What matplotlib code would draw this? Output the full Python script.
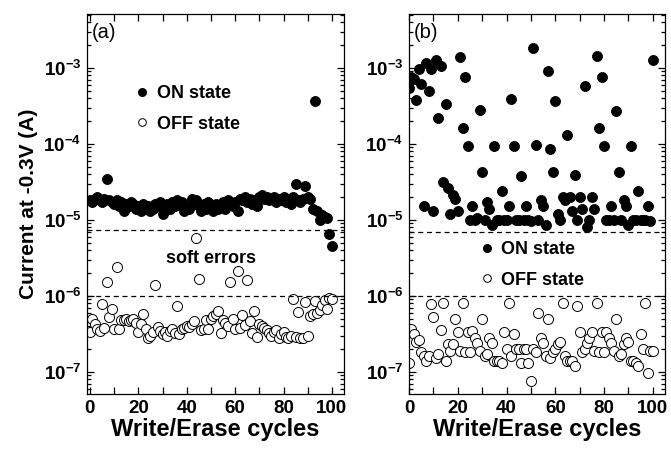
import numpy as np
import matplotlib
matplotlib.use("Agg")
import matplotlib.pyplot as plt
from matplotlib.lines import Line2D
from matplotlib.ticker import LogLocator, MultipleLocator, NullFormatter

plt.rcParams['font.family'] = ['Liberation Sans', 'DejaVu Sans']

cycles = np.arange(0, 101)

# panel (a), units of 1e-5 A
on_a = [1.8, 1.7, 1.9, 2.0, 1.8, 1.7, 1.9, 3.4, 1.8, 1.7,
        1.6, 1.8, 1.5, 1.7, 1.3, 1.6, 1.5, 1.7, 1.6, 1.4,
        1.5, 1.3, 1.6, 1.4, 1.5, 1.3, 1.4, 1.6, 1.5, 1.7,
        1.2, 1.5, 1.6, 1.4, 1.7, 1.5, 1.8, 1.6, 1.7, 1.3,
        1.5, 1.4, 1.9, 1.6, 1.8, 1.5, 1.3, 1.6, 1.4, 1.7,
        1.5, 1.3, 1.6, 1.4, 1.5, 1.7, 1.4, 1.8, 1.6, 1.5,
        1.7, 1.3, 1.9, 1.8, 2.0, 1.7, 1.9, 1.6, 1.8, 1.5,
        2.0, 2.1, 1.9, 2.0, 1.8, 1.9, 2.0, 1.7, 1.9, 1.8,
        2.0, 1.7, 1.9, 1.6, 2.0, 3.0, 1.8, 1.7, 1.9, 2.8,
        2.0, 1.9, 1.4, 37.0, 1.3, 1.0, 1.15, 1.1, 1.05, 0.65,
        0.45]
# panel (a), units of 1e-7 A
off_a = [3.3, 5.0, 4.3, 3.6, 3.4, 7.8, 3.8, 15, 5.3, 6.6,
         3.7, 24, 3.6, 4.8, 4.8, 5.0, 4.6, 4.8, 5.0, 4.4,
         3.3, 4.2, 5.8, 3.6, 2.8, 3.0, 3.3, 14, 3.9, 3.4,
         3.1, 3.3, 3.0, 3.4, 3.7, 3.2, 7.4, 3.1, 3.6, 3.8,
         4.0, 3.9, 4.2, 4.6, 57, 16.5, 3.5, 3.6, 4.8, 3.6,
         5.0, 5.4, 5.8, 6.3, 3.2, 4.8, 4.4, 4.0, 15, 4.9,
         3.6, 21, 3.8, 5.6, 4.1, 16, 4.6, 3.2, 6.3, 2.9,
         4.3, 4.0, 3.8, 3.5, 3.2, 3.0, 3.3, 3.5, 2.8, 3.1,
         3.3, 2.9, 2.8, 3.0, 9.0, 2.9, 6.2, 2.8, 2.8, 8.2,
         3.0, 5.5, 5.8, 8.5, 6.0, 6.5, 7.5, 8.8, 6.8, 9.3,
         9.0]

# panel (b), units of 1e-5 A
on_b = [54, 76, 72, 38, 97, 62, 1.5, 117, 49, 97,
        1.3, 128, 22, 106, 3.1, 33, 2.6, 1.2, 2.1, 1.9,
        1.3, 140, 16, 76, 9.4, 1.0, 1.5, 1.0, 1.05, 28,
        4.2, 1.0, 1.7, 1.4, 0.86, 9.4, 1.0, 1.0, 2.4, 1.0,
        1.0, 1.5, 39, 9.4, 1.0, 1.0, 3.8, 1.0, 1.5, 1.0,
        0.97, 180, 9.7, 1.0, 1.8, 1.5, 0.86, 92, 8.6, 4.3,
        36, 1.2, 1.0, 2.0, 1.8, 13, 2.0, 1.3, 3.9, 1.0,
        2.0, 1.4, 58, 0.8, 1.0, 2.0, 1.4, 145, 16, 76,
        9.4, 1.0, 1.0, 1.5, 1.0, 27, 4.2, 1.0, 1.8, 1.5,
        0.86, 9.4, 1.0, 1.0, 2.4, 1.0, 1.0, 1.0, 1.5, 0.95,
        128]
# panel (b), units of 1e-7 A
off_b = [1.3, 3.7, 3.1, 2.5, 2.6, 1.8, 1.6, 1.4, 1.6, 7.9,
         5.2, 1.5, 1.7, 3.5, 8.1, 1.4, 2.3, 1.9, 2.3, 5.0,
         3.3, 1.9, 8.1, 1.8, 3.3, 1.8, 3.4, 2.8, 2.4, 1.9,
         5.0, 1.6, 1.7, 2.8, 2.4, 1.4, 1.4, 1.4, 1.3, 3.3,
         2.0, 8.1, 1.6, 3.1, 2.0, 2.0, 1.3, 2.0, 2.0, 1.3,
         0.76, 2.0, 1.8, 6.0, 2.8, 2.4, 1.6, 5.0, 1.5, 1.8,
         2.0, 2.3, 2.5, 8.1, 1.6, 1.4, 1.4, 1.4, 1.2, 7.4,
         3.3, 1.8, 2.0, 2.4, 2.8, 3.3, 1.9, 8.1, 1.8, 3.3,
         1.8, 3.3, 2.8, 2.4, 1.9, 5.0, 1.6, 1.7, 2.3, 2.8,
         2.5, 1.4, 1.4, 1.3, 1.2, 3.1, 2.0, 8.1, 0.95, 1.9,
         1.9]

limits_a = [7.4e-6, 1e-6]
limits_b = [7.0e-6, 1e-6]

fig = plt.figure(figsize=(6.71, 4.49), dpi=100)
ax_a = fig.add_axes([87 / 671, 55 / 449, 257 / 671, 380 / 449])
ax_b = fig.add_axes([409 / 671, 55 / 449, 256 / 671, 380 / 449])

ms = 7.2
for ax, on, off, lims, xmin in [(ax_a, on_a, off_a, limits_a, -1.2),
                                (ax_b, on_b, off_b, limits_b, 0)]:
    ax.plot(cycles, np.array(on) * 1e-5, 'o', ms=ms, mfc='black', mec='black',
            mew=0.6, clip_on=True)
    ax.plot(cycles, np.array(off) * 1e-7, 'o', ms=ms, mfc='white', mec='black',
            mew=0.7, clip_on=True)
    for v in lims:
        ax.axhline(v, color='black', ls=(0, (4, 3)), lw=0.9)
    ax.set_yscale('log')
    ax.set_ylim(5.1e-8, 5.1e-3)
    ax.set_xlim(xmin, 105)
    ax.xaxis.set_major_locator(MultipleLocator(20))
    ax.xaxis.set_minor_locator(MultipleLocator(10))
    ax.yaxis.set_major_locator(LogLocator(base=10, numticks=10))
    ax.yaxis.set_minor_locator(LogLocator(base=10, subs=np.arange(2, 10), numticks=10))
    ax.yaxis.set_minor_formatter(NullFormatter())
    ax.tick_params(which='both', direction='in', top=True, right=True, width=0.9)
    ax.tick_params(which='major', length=5, labelsize=13.5, pad=4)
    ax.tick_params(which='minor', length=3)
    ax.tick_params(axis='x', which='minor', length=5)
    for lab in ax.get_xticklabels() + ax.get_yticklabels():
        lab.set_fontweight('bold')
    for sp in ax.spines.values():
        sp.set_linewidth(0.9)
    ax.set_xlabel('Write/Erase cycles', fontsize=17, fontweight='bold', labelpad=1)

ax_a.set_ylabel('Current at -0.3V (A)', fontsize=15, fontweight='bold', labelpad=4)

ax_a.text(0.02, 0.975, '(a)', transform=ax_a.transAxes, fontsize=14.5, va='top')
ax_b.text(0.02, 0.975, '(b)', transform=ax_b.transAxes, fontsize=14.5, va='top')
ax_a.text(50, 3.1e-6, 'soft errors', fontsize=13, fontweight='bold', ha='center', va='center')

handles = [Line2D([], [], ls='', marker='o', ms=5.5, mfc='black', mec='black'),
           Line2D([], [], ls='', marker='o', ms=5.5, mfc='white', mec='black', mew=0.7)]
labels = ['ON state', 'OFF state']
leg_a = ax_a.legend(handles, labels, loc='upper left', bbox_to_anchor=(0.13, 0.856),
                    frameon=False, handlelength=0.6, handletextpad=0.5, labelspacing=0.75,
                    prop={'size': 13, 'weight': 'bold'})
leg_b = ax_b.legend(handles, labels, loc='upper left', bbox_to_anchor=(0.22, 0.445),
                    frameon=False, handlelength=0.6, handletextpad=0.5, labelspacing=0.75,
                    prop={'size': 13, 'weight': 'bold'})

fig.savefig('out.png', dpi=100)
